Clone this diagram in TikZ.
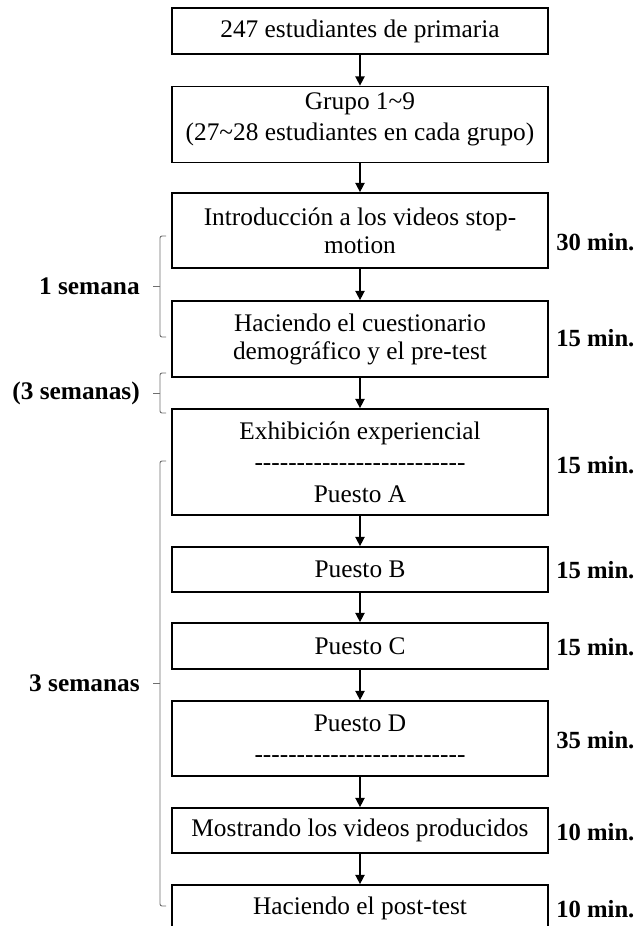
\documentclass[tikz,border=0pt]{standalone}
\usepackage{fontspec}
\setmainfont{Liberation Serif}[Ligatures=TeXOff]
\usepackage{xcolor}
\usepackage{tikz}
\usetikzlibrary{positioning, arrows.meta}
\definecolor{fInk}{HTML}{000000}
\definecolor{fBrace}{HTML}{6E6E6E}
\tikzset{
  stepbox/.style={draw=fInk, line width=1.3pt, minimum width=282pt, inner sep=2pt,
    align=center, font=\fontsize{19}{23.5}\selectfont},
  timelbl/.style={anchor=west, inner sep=0pt, font=\fontsize{18.5}{22}\selectfont\bfseries},
  weeklbl/.style={anchor=east, inner sep=0pt, font=\fontsize{19}{22}\selectfont\bfseries},
  flow/.style={-{Triangle[length=7pt,width=7pt]}, line width=1.1pt, fInk},
  wbrace/.style={draw=fBrace, line width=0.7pt, rounded corners=1.5pt},
}
\begin{document}
\begin{tikzpicture}[x=0.75pt, y=-0.75pt]
      \useasboundingbox (0,0) rectangle (638,926);
      \clip (0,0) rectangle (638,926);
      % boxes
      \node[stepbox, minimum height=34.5pt] (total) at (360,31) {247 estudiantes de primaria};
      \node[stepbox, minimum height=57pt] (grupo) at (360,124.5)
        {Grupo 1\textasciitilde 9\\(27\textasciitilde 28 estudiantes en cada grupo)\\[-12pt]\mbox{}};
      \node[stepbox, minimum height=56.25pt, font=\fontsize{19}{21}\selectfont] (intro) at (360,230.5)
        {Introducción a los videos stop-\\motion};
      \node[stepbox, minimum height=57pt, font=\fontsize{19}{21}\selectfont] (cuest) at (360,339)
        {Haciendo el cuestionario\\demográfico y el pre-test};
      \node[stepbox, minimum height=79.5pt] (puestoA) at (360,462)
        {Exhibición experiencial\\-------------------------\\Puesto A};
      \node[stepbox, minimum height=33.75pt] (puestoB) at (360,569.5) {Puesto B};
      \node[stepbox, minimum height=34.5pt] (puestoC) at (360,646) {Puesto C};
      \node[stepbox, minimum height=56.25pt] (puestoD) at (360,738.5)
        {Puesto D\\-------------------------};
      \node[stepbox, minimum height=33.75pt] (mostrar) at (360,830.5) {Mostrando los videos producidos};
      \node[stepbox, minimum height=34.5pt] (post) at (360,908) {Haciendo el post-test};
      \draw[flow] (total) -- (grupo);
      \draw[flow] (grupo) -- (intro);
      \draw[flow] (intro) -- (cuest);
      \draw[flow] (cuest) -- (puestoA);
      \draw[flow] (puestoA) -- (puestoB);
      \draw[flow] (puestoB) -- (puestoC);
      \draw[flow] (puestoC) -- (puestoD);
      \draw[flow] (puestoD) -- (mostrar);
      \draw[flow] (mostrar) -- (post);
      % minutes
      \node[timelbl] (tIntro) at (556,242) {30 min.};
      \node[timelbl] (tCuest) at (556,338) {15 min.};
      \node[timelbl] (tA) at (556,465) {15 min.};
      \node[timelbl] (tB) at (556,570) {15 min.};
      \node[timelbl] (tC) at (556,647) {15 min.};
      \node[timelbl] (tD) at (556,740) {35 min.};
      \node[timelbl] (tMostrar) at (556,832) {10 min.};
      \node[timelbl] (tPost) at (556,909) {10 min.};
      % weeks
      \draw[wbrace] (166,236) -- (160,236) -- (160,286) -- (160,337) -- (166,337);
      \draw[wbrace] (160,286) -- (153,286);
      \node[weeklbl] (w1) at (140,286) {1 semana};
      \draw[wbrace] (166,373) -- (160,373) -- (160,393) -- (160,413) -- (166,413);
      \draw[wbrace] (160,393) -- (153,393);
      \node[weeklbl] (wPause) at (140,393) {(3 semanas)};
      \draw[wbrace] (166,461) -- (160,461) -- (160,683) -- (160,906) -- (166,906);
      \draw[wbrace] (160,683) -- (153,683);
      \node[weeklbl] (w3) at (140,683) {3 semanas};
    \end{tikzpicture}
\end{document}
